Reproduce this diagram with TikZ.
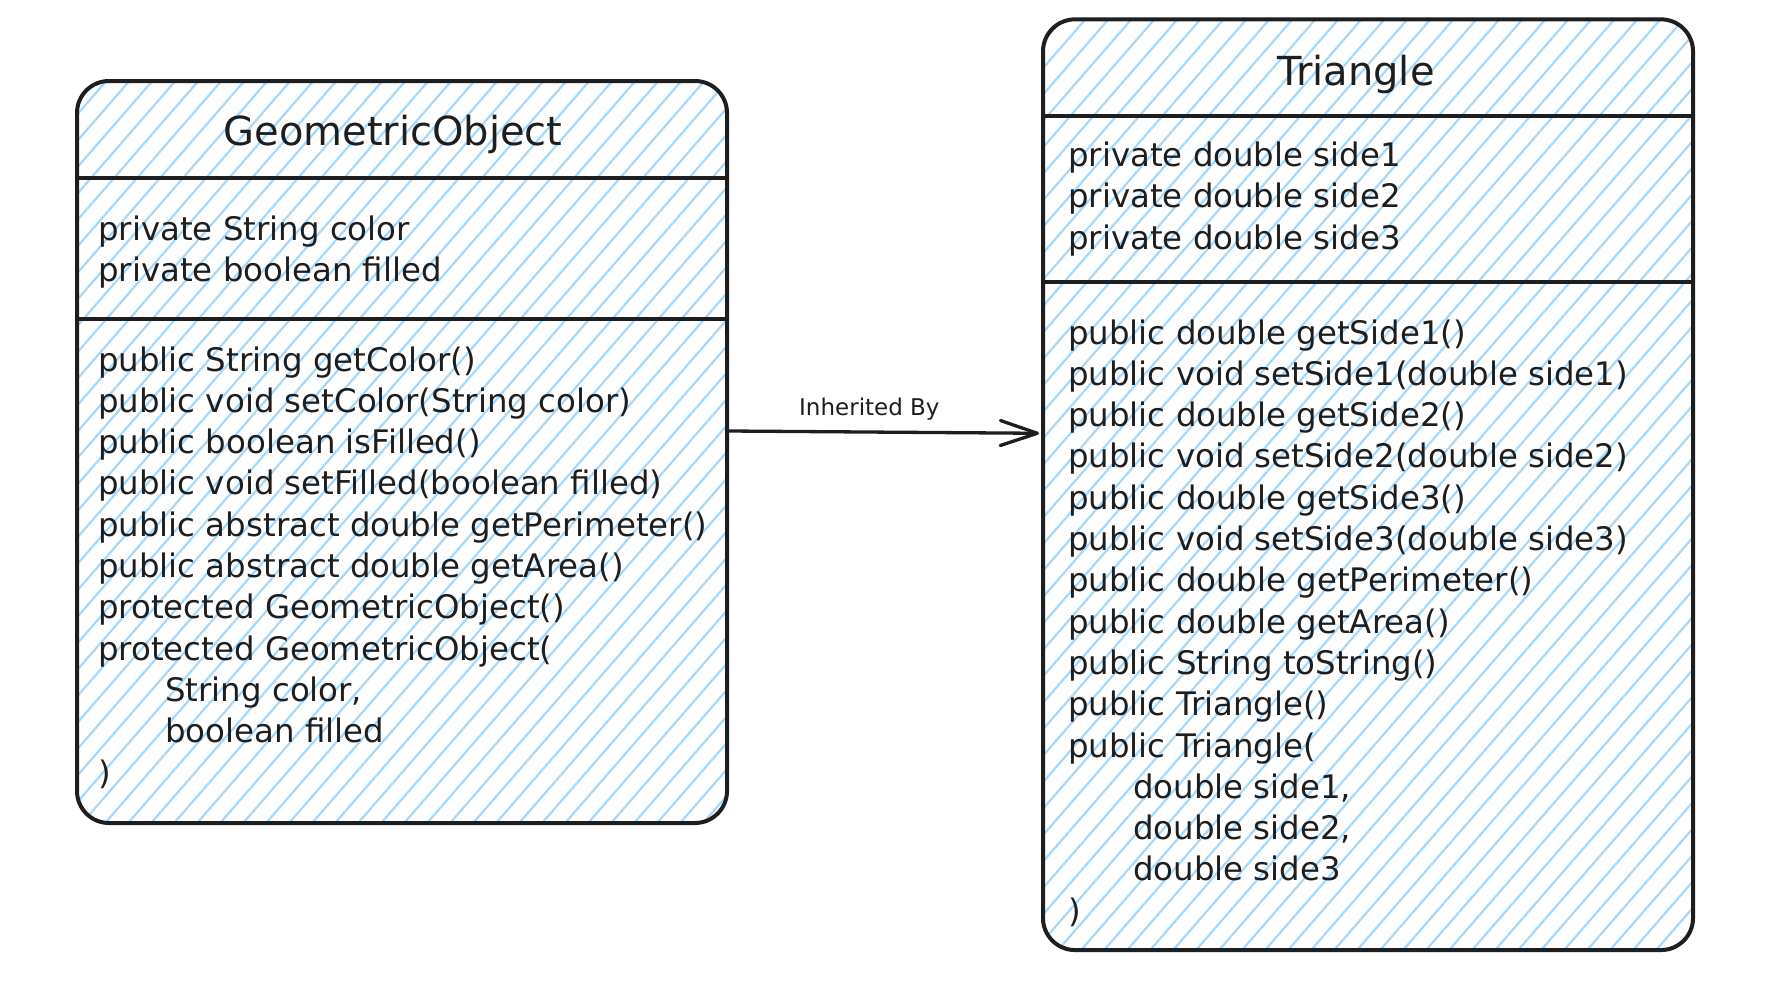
\documentclass[tikz,border=0pt]{standalone}
\usepackage{fontspec}
\setmainfont{DejaVu Sans}
\usetikzlibrary{arrows.meta,calc}
\definecolor{ink}{HTML}{1E1E1E}
\definecolor{hatchblue}{HTML}{A5D8FF}
\newcommand{\bodyfnt}{\fontsize{32.4}{41.3}\selectfont}
\newcommand{\titlefnt}{\fontsize{40}{48}\selectfont}
\newcommand{\lblfnt}{\fontsize{23}{28}\selectfont}
\begin{document}
\begin{tikzpicture}[x=1pt,y=-1pt,
  classbox/.style={draw=ink, line width=4pt, rounded corners=32pt, inner sep=0pt,
    path picture={
      \foreach \s in {-1600,-1577,...,820}
        \draw[hatchblue, line width=2.2pt] (\s,600) -- (\s+1043.5,-600);
    }},
  divider/.style={draw=ink, line width=4pt},
  txt/.style={anchor=base west, inner sep=0pt, text=ink, font=\bodyfnt},
  ttl/.style={anchor=base, inner sep=0pt, text=ink, font=\titlefnt},
  conn/.style={draw=ink, line width=3.3pt, shorten >=2pt,
    -{Straight Barb[length=37pt, width=25pt, line width=3.3pt, round]}}
]
\useasboundingbox (0,0) rectangle (1768,990);

% class boxes
\node[classbox, minimum width=650pt, minimum height=742pt] (geo) at (402,452) {};
\node[classbox, minimum width=650pt, minimum height=930.7pt] (tri) at (1368,484.7) {};

% dividers
\draw[divider] ($(geo.north west)+(0,99)$) -- ($(geo.north east)+(0,99)$);
\draw[divider] ($(geo.north west)+(0,240)$) -- ($(geo.north east)+(0,240)$);
\draw[divider] ($(tri.north west)+(0,99)$) -- ($(tri.north east)+(0,99)$);
\draw[divider] ($(tri.north west)+(0,264.7)$) -- ($(tri.north east)+(0,264.7)$);

% GeometricObject texts
\node[ttl] (geot) at (393,145) {GeometricObject};
\node[txt] (ga1) at (98,240) {private String color};
\node[txt] (ga2) at (98,281.3) {private boolean filled};
\node[txt] (gm1) at (98,371) {public String getColor()};
\node[txt] (gm2) at (98,412.3) {public void setColor(String color)};
\node[txt] (gm3) at (98,453.6) {public boolean isFilled()};
\node[txt] (gm4) at (98,494.9) {public void setFilled(boolean filled)};
\node[txt] (gm5) at (98,536.2) {public abstract double getPerimeter()};
\node[txt] (gm6) at (98,577.5) {public abstract double getArea()};
\node[txt] (gm7) at (98,618.8) {protected GeometricObject()};
\node[txt] (gm8) at (98,660.1) {protected GeometricObject(};
\node[txt] (gm9) at (165,701.4) {String color,};
\node[txt] (gm10) at (165,742.7) {boolean filled};
\node[txt] (gm11) at (98,784.0) {)};

% Triangle texts
\node[ttl] (trit) at (1356,85) {Triangle};
\node[txt] (ta1) at (1068,166.5) {private double side1};
\node[txt] (ta2) at (1068,207.8) {private double side2};
\node[txt] (ta3) at (1068,249.1) {private double side3};
\node[txt] (tm1) at (1068,344) {public double getSide1()};
\node[txt] (tm2) at (1068,385.3) {public void setSide1(double side1)};
\node[txt] (tm3) at (1068,426.6) {public double getSide2()};
\node[txt] (tm4) at (1068,467.9) {public void setSide2(double side2)};
\node[txt] (tm5) at (1068,509.2) {public double getSide3()};
\node[txt] (tm6) at (1068,550.5) {public void setSide3(double side3)};
\node[txt] (tm7) at (1068,591.8) {public double getPerimeter()};
\node[txt] (tm8) at (1068,633.1) {public double getArea()};
\node[txt] (tm9) at (1068,674.4) {public String toString()};
\node[txt] (tm10) at (1068,715.7) {public Triangle()};
\node[txt] (tm11) at (1068,757.0) {public Triangle(};
\node[txt] (tm12) at (1133,798.3) {double side1,};
\node[txt] (tm13) at (1133,839.6) {double side2,};
\node[txt] (tm14) at (1133,880.9) {double side3};
\node[txt] (tm15) at (1068,922.2) {)};

% inheritance connector
\draw[conn] ([yshift=21pt]geo.east) -- ([yshift=51.4pt]tri.west)
  node[pos=0.45, anchor=base, yshift=17pt, inner sep=0pt, text=ink, font=\lblfnt] (lbl) {Inherited By};
\end{tikzpicture}
\end{document}
